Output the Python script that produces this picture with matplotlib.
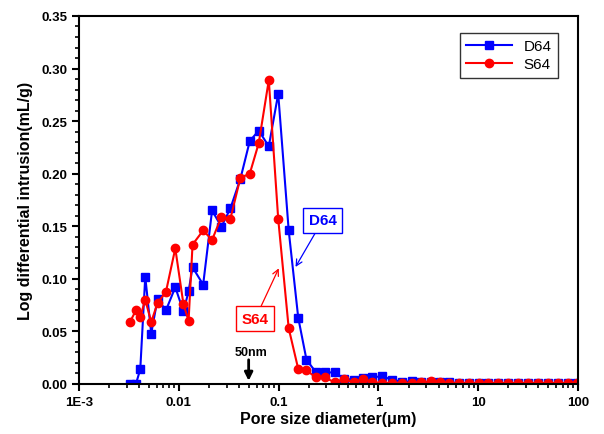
import matplotlib
matplotlib.use('Agg')
import matplotlib.pyplot as plt
from matplotlib.ticker import FixedLocator, LogLocator, NullFormatter, MultipleLocator

plt.rcParams['font.family'] = ['Liberation Sans', 'DejaVu Sans']

# pore diameter (um), shared by both samples
diam = [0.00325, 0.00371, 0.00410, 0.00460, 0.00528, 0.00611, 0.00741, 0.00920,
        0.0111, 0.0125, 0.0137, 0.0175, 0.0215, 0.0267, 0.0328, 0.0413, 0.0513,
        0.0631, 0.0796, 0.0989, 0.126, 0.157, 0.190, 0.234, 0.290, 0.363, 0.451,
        0.568, 0.705, 0.868, 1.09, 1.37, 1.71, 2.15, 2.68, 3.34, 4.17, 5.10, 6.38,
        8.05, 10.1, 12.6, 15.7, 19.8, 25.0, 31.5, 39.6, 50.0, 63.0, 79.4, 97.7]

d64 = [0.0, 0.0, 0.014, 0.102, 0.048, 0.081, 0.070, 0.092, 0.069, 0.088, 0.111,
       0.0945, 0.165, 0.1495, 0.167, 0.195, 0.231, 0.241, 0.226, 0.276, 0.146,
       0.063, 0.023, 0.0117, 0.011, 0.011, 0.005, 0.004, 0.0054, 0.0064, 0.0073,
       0.004, 0.0022, 0.0024, 0.002, 0.0015, 0.0015, 0.0016, 0.0009, 0.0008,
       0.0008, 0.0008, 0.0008, 0.0008, 0.0008, 0.0008, 0.0008, 0.0008, 0.0008,
       0.0008, 0.0008]

s64 = [0.0594, 0.070, 0.064, 0.080, 0.059, 0.077, 0.0875, 0.129, 0.076, 0.060,
       0.1326, 0.146, 0.137, 0.159, 0.157, 0.196, 0.200, 0.229, 0.289, 0.157,
       0.053, 0.0143, 0.013, 0.0064, 0.0062, 0.0016, 0.0045, 0.0016, 0.0048,
       0.0016, 0.001, 0.001, 0.001, 0.0012, 0.0015, 0.0025, 0.0018, 0.001,
       0.0008, 0.0008, 0.0008, 0.0008, 0.0008, 0.0008, 0.0008, 0.0008, 0.0008,
       0.0008, 0.0008, 0.0008, 0.0008]

xticks = [1e-3, 1e-2, 1e-1, 1, 10, 100]
xticklabels = ['1E-3', '0.01', '0.1', '1', '10', '100']

fig = plt.figure(figsize=(6.04, 4.35), dpi=100)
ax = fig.add_axes([0.131, 0.115, 0.826, 0.846])

ax.plot(diam, d64, '-s', color='#0000ff', lw=1.5, ms=5.5, label='D64')
ax.plot(diam, s64, '-o', color='#ff0000', lw=1.5, ms=6, label='S64')

ax.set_xscale('log')
ax.set_xlim(1e-3, 100)
ax.set_ylim(0, 0.35)
ax.xaxis.set_major_locator(FixedLocator(xticks))
ax.set_xticklabels(xticklabels)
ax.xaxis.set_minor_locator(LogLocator(base=10, subs=range(2, 10), numticks=20))
ax.xaxis.set_minor_formatter(NullFormatter())
ax.yaxis.set_major_locator(MultipleLocator(0.05))
ax.yaxis.set_minor_locator(MultipleLocator(0.01))
ax.yaxis.set_major_formatter(plt.FuncFormatter(lambda v, p: '%.2f' % v))

for s in ax.spines.values():
    s.set_linewidth(1.5)
ax.tick_params(which='major', direction='out', length=5, width=1.5, labelsize=9.5)
ax.tick_params(which='minor', direction='out', length=3, width=1.2)
for lab in ax.get_xticklabels() + ax.get_yticklabels():
    lab.set_fontweight('bold')

ax.set_xlabel('Pore size diameter(\u03bcm)', fontsize=11.5, fontweight='bold', labelpad=2)
ax.set_ylabel('Log differential intrusion(mL/g)', fontsize=11.5, fontweight='bold', labelpad=6)

leg = ax.legend(loc='upper right', bbox_to_anchor=(0.975, 0.975), fancybox=False,
                edgecolor='black', fontsize=11, handlelength=3.0, borderpad=0.4,
                labelspacing=0.3)
leg.get_frame().set_linewidth(1.0)

# callouts
ax.annotate('D64', xy=(0.1475, 0.1113), xytext=(0.275, 0.1555),
            color='#0000ff', fontsize=11, fontweight='bold', ha='center', va='center',
            bbox=dict(boxstyle='square,pad=0.35', fc='white', ec='#0000ff', lw=1),
            arrowprops=dict(arrowstyle='->', color='#0000ff', lw=0.9, shrinkA=0, shrinkB=0))
ax.annotate('S64', xy=(0.1002, 0.110), xytext=(0.0582, 0.062),
            color='#ff0000', fontsize=11, fontweight='bold', ha='center', va='center',
            bbox=dict(boxstyle='square,pad=0.35', fc='white', ec='#ff0000', lw=1),
            arrowprops=dict(arrowstyle='->', color='#ff0000', lw=0.9, shrinkA=0, shrinkB=0))
ax.annotate('', xy=(0.05, 0.003), xytext=(0.05, 0.023),
            arrowprops=dict(arrowstyle='-|>', color='black', lw=2, mutation_scale=12,
                            shrinkA=0, shrinkB=0))
ax.text(0.0534, 0.030, '50nm', fontsize=9, fontweight='bold', ha='center', va='center')

fig.savefig('out.png', dpi=100)
